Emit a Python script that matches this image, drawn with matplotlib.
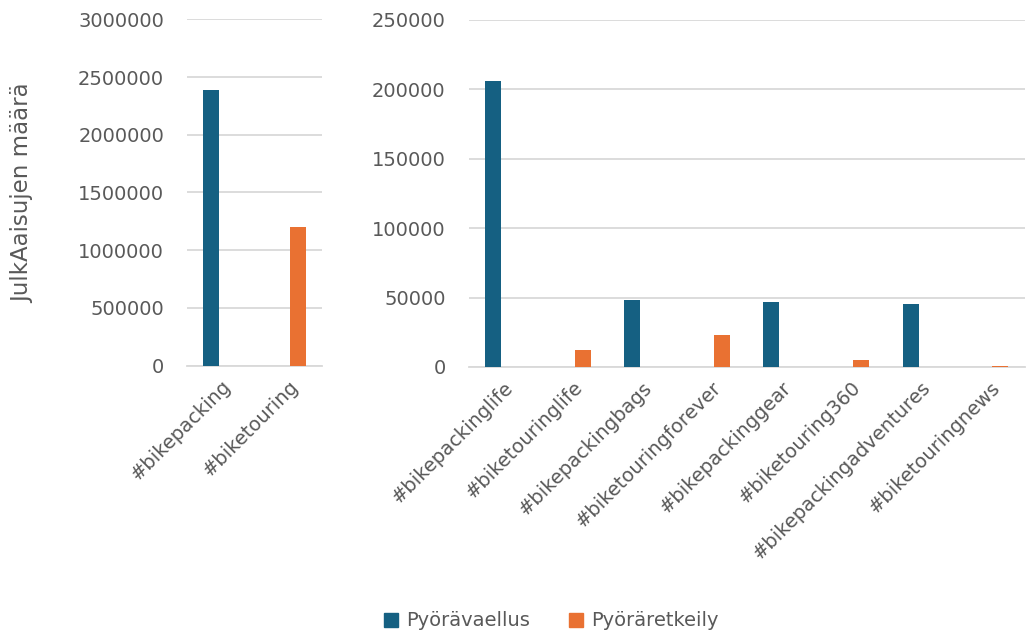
import matplotlib
matplotlib.use("Agg")
import matplotlib.pyplot as plt
import numpy as np
from matplotlib.patches import Patch

# hashtag post counts, two series
series_names = ['Pyörävaellus', 'Pyöräretkeily']
main_tags = ['#bikepacking', '#biketouring']
main_vaellus = [2390000, np.nan]
main_retkeily = [np.nan, 1200000]

sub_tags = ['#bikepackinglife', '#biketouringlife', '#bikepackingbags',
            '#biketouringforever', '#bikepackinggear', '#biketouring360',
            '#bikepackingadventures', '#biketouringnews']
sub_vaellus = [206100, np.nan, 48200, np.nan, 46500, np.nan, 45300, np.nan]
sub_retkeily = [np.nan, 12000, np.nan, 22800, np.nan, 4800, np.nan, 700]

BLUE = '#156082'
ORANGE = '#E97132'
GRID = '#D9D9D9'
TXT = '#595959'
FS = 14
W = 0.23
OFF = 0.145

fig = plt.figure(figsize=(10.30, 6.37), dpi=100)
ax1 = fig.add_axes([0.1816, 0.4262, 0.1311, 0.5435])
ax2 = fig.add_axes([0.4549, 0.4239, 0.5403, 0.5452])


def draw(ax, tags, blue, orange, ymax, step):
    x = np.arange(len(tags))
    ax.bar(x - OFF, blue, W, color=BLUE, zorder=3)
    ax.bar(x + OFF, orange, W, color=ORANGE, zorder=3)
    ax.set_xlim(-0.5, len(tags) - 0.5)
    ax.set_ylim(0, ymax)
    ax.set_yticks(np.arange(0, ymax + 1, step))
    ax.ticklabel_format(style='plain', axis='y')
    ax.yaxis.grid(True, color=GRID, lw=1.3, zorder=0)
    ax.set_axisbelow(True)
    for s in ['top', 'right', 'left']:
        ax.spines[s].set_visible(False)
    ax.spines['bottom'].set_color(GRID)
    ax.spines['bottom'].set_linewidth(1.3)
    ax.tick_params(axis='both', length=0, labelsize=FS, labelcolor=TXT)
    ax.tick_params(axis='y', pad=16.5)
    ax.tick_params(axis='x', pad=8)
    ax.set_xticks(x)
    ax.set_xticklabels(tags, rotation=45, ha='right', rotation_mode='anchor')


draw(ax1, main_tags, main_vaellus, main_retkeily, 3000000, 500000)
draw(ax2, sub_tags, sub_vaellus, sub_retkeily, 250000, 50000)

fig.text(0.022, 1 - 193 / 637, 'JulkAaisujen määrä', rotation=90,
         ha='center', va='center', fontsize=16.5, color=TXT)

handles = [Patch(color=BLUE, label=series_names[0]),
           Patch(color=ORANGE, label=series_names[1])]
fig.legend(handles=handles, loc='center', bbox_to_anchor=(551 / 1030, 1 - 621 / 637),
           ncol=2, frameon=False, fontsize=FS, labelcolor=TXT,
           handlelength=0.75, handleheight=0.75, handletextpad=0.4,
           columnspacing=2.0)

fig.savefig('out.png', dpi=100, facecolor='white')
